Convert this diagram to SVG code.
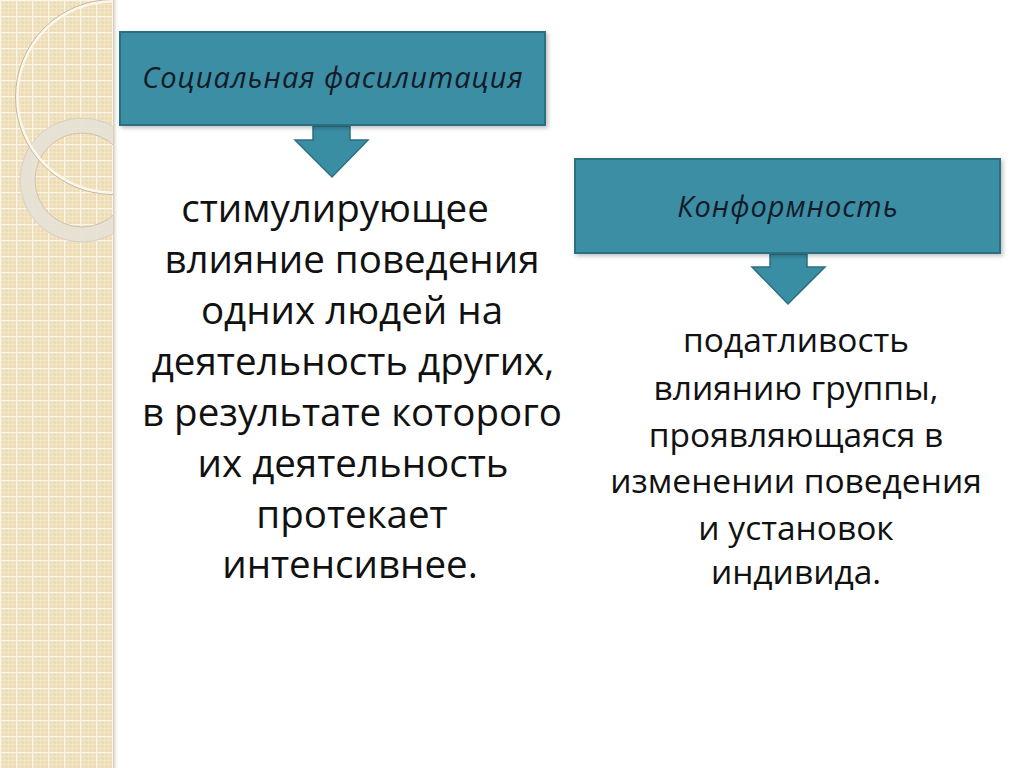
<svg xmlns="http://www.w3.org/2000/svg" width="1024" height="768" viewBox="0 0 1024 768">
<defs>
<pattern id="grid" x="0" y="0" width="16" height="16" patternUnits="userSpaceOnUse">
<rect width="16" height="16" fill="#eedcb6"/>
<path d="M4.5 0V16M8.5 0V16M12.5 0V16M0 4.5H16M0 8.5H16M0 12.5H16" stroke="#f3e5c8" stroke-width="1"/>
<path d="M0.5 0V16M0 0.5H16" stroke="#fbf6ea" stroke-width="1.6"/>
</pattern>
<linearGradient id="edge" x1="0" x2="1" y1="0" y2="0">
<stop offset="0" stop-color="#b8ad98" stop-opacity="0.7"/>
<stop offset="1" stop-color="#ffffff" stop-opacity="0"/>
</linearGradient>
<clipPath id="stripClip"><rect x="0" y="0" width="113" height="768"/></clipPath>
<filter id="sh" x="-10%" y="-10%" width="130%" height="140%">
<feDropShadow dx="2" dy="2" stdDeviation="2" flood-color="#000" flood-opacity="0.25"/>
</filter>
</defs>
<style>
.box{fill:#3a8ea3;stroke:#2c6f80;stroke-width:2}
.arrow{fill:#3a8ea3;stroke:#2c6f80;stroke-width:1.5}
.title{font-family:"Open Sans","Noto Sans",sans-serif;font-style:italic;font-size:29px;letter-spacing:1px;fill:#141a28;text-anchor:middle}
.body{font-family:"Open Sans","Noto Sans",sans-serif;font-size:38.5px;fill:#111;text-anchor:middle}
.body2{font-family:"Open Sans","Noto Sans",sans-serif;font-size:33.5px;fill:#111;text-anchor:middle}
</style>
<rect width="1024" height="768" fill="#ffffff"/>
<g id="strip">
<rect x="0" y="0" width="113" height="768" fill="url(#grid)"/>
<g clip-path="url(#stripClip)">
<circle cx="82" cy="180" r="54.5" fill="none" stroke="#e6e1d6" stroke-width="15" opacity="0.9"/>
<circle cx="82" cy="180" r="62" fill="none" stroke="#d8cfbf" stroke-width="1"/>
<circle cx="82" cy="180" r="47" fill="none" stroke="#cfc3a8" stroke-width="1"/>
<circle cx="113" cy="97" r="96" fill="none" stroke="#fbf7ee" stroke-width="3"/>
<circle cx="113" cy="97" r="97.5" fill="none" stroke="#c9b995" stroke-width="1"/>
</g>
<rect x="113" y="0" width="6" height="768" fill="url(#edge)"/>
</g>
<g id="connectors">
<path class="arrow" d="M313 126V140H295L332 177L368 140H350V126Z"/>
<path class="arrow" d="M770 254V267H752L788 304L825 267H807V254Z"/>
</g>
<g id="node-facilitation">
<rect class="box" x="120" y="32" width="425" height="93" filter="url(#sh)"/>
<text class="title" x="333" y="88">Социальная фасилитация</text>
</g>
<g id="node-conformity">
<rect class="box" x="575" y="159" width="425" height="94" filter="url(#sh)"/>
<text class="title" x="788" y="217">Конформность</text>
</g>
<g id="text-facilitation">
<text class="body" x="335" y="222">стимулирующее</text>
<text class="body" x="352" y="273">влияние поведения</text>
<text class="body" x="352" y="324">одних людей на</text>
<text class="body" x="353" y="375">деятельность других,</text>
<text class="body" x="352" y="426">в результате которого</text>
<text class="body" x="353" y="477">их деятельность</text>
<text class="body" x="352" y="528">протекает</text>
<text class="body" x="350" y="578">интенсивнее.</text>
</g>
<g id="text-conformity">
<text class="body2" x="796" y="352">податливость</text>
<text class="body2" x="796" y="400">влиянию группы,</text>
<text class="body2" x="796" y="447">проявляющаяся в</text>
<text class="body2" x="796" y="493">изменении поведения</text>
<text class="body2" x="796" y="540">и установок</text>
<text class="body2" x="796" y="584">индивида.</text>
</g>
</svg>
